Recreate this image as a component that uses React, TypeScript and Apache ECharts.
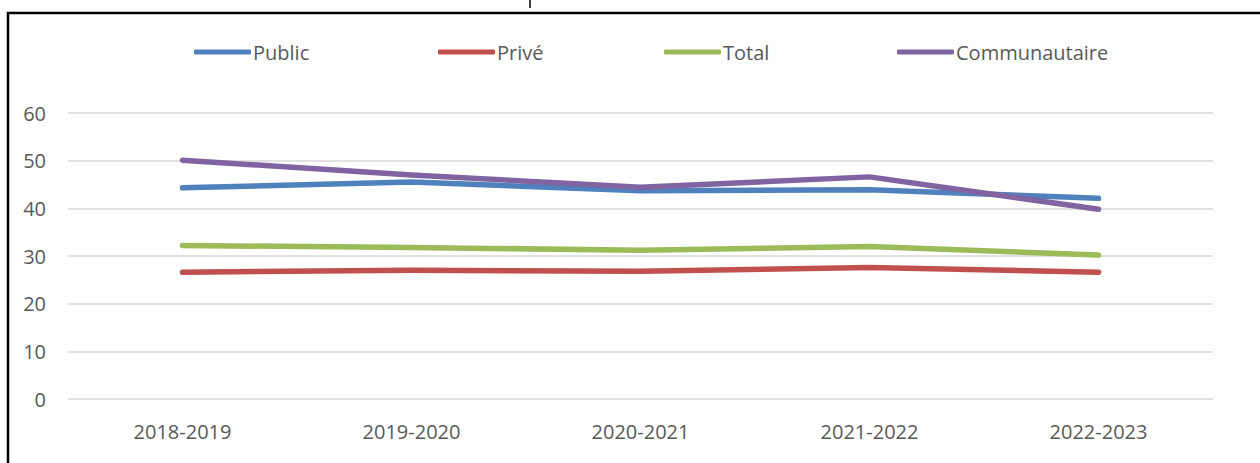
import React, { useEffect, useRef } from "react";
import * as echarts from "echarts";

const categories = ["2018-2019", "2019-2020", "2020-2021", "2021-2022", "2022-2023"];
const publicValues = [44.3, 45.5, 43.7, 43.9, 42.1];
const priveValues = [26.6, 27.0, 26.8, 27.6, 26.6];
const totalValues = [32.2, 31.8, 31.2, 32.0, 30.2];
const communautaireValues = [50.1, 47.0, 44.4, 46.6, 39.8];
const seriesNames = ["Public", "Privé", "Total", "Communautaire"];
const colors = ["#4F81BD", "#C0504D", "#9BBB59", "#8064A2"];
const legendLefts = [194, 438, 664, 897];

const FONT = "'Open Sans', 'Liberation Sans', sans-serif";

export default function App() {
  const ref = useRef<HTMLDivElement>(null);
  useEffect(() => {
    document.body.style.margin = "0";
    const chart = echarts.init(ref.current!, undefined, { renderer: "svg" });
    const values = [publicValues, priveValues, totalValues, communautaireValues];
    chart.setOption({
      animation: false,
      backgroundColor: "#ffffff",
      grid: { left: 68, right: 47, top: 113, bottom: 64, containLabel: false },
      legend: seriesNames.map((name, i) => ({
        data: [name],
        left: legendLefts[i],
        top: 42,
        padding: 0,
        itemWidth: 57,
        itemHeight: 5,
        itemGap: 0,
        icon: "roundRect",
        textStyle: { color: "#595959", fontSize: 20, fontFamily: FONT, padding: [0, 0, 0, -3] },
      })),
      xAxis: {
        type: "category",
        data: categories,
        boundaryGap: true,
        axisLine: { show: false },
        axisTick: { show: false },
        axisLabel: { color: "#595959", fontSize: 20, fontFamily: FONT, margin: 22 },
      },
      yAxis: {
        type: "value",
        min: 0,
        max: 60,
        interval: 10,
        axisLine: { show: false },
        axisTick: { show: false },
        splitLine: { lineStyle: { color: "#D9D9D9", width: 1.5 } },
        axisLabel: { color: "#595959", fontSize: 20, fontFamily: FONT, margin: 22 },
      },
      series: seriesNames.map((name, i) => ({
        name,
        type: "line",
        data: values[i],
        symbol: "none",
        color: colors[i],
        lineStyle: { width: 5.5, color: colors[i], cap: "round", join: "round" },
      })),
      graphic: [
        {
          type: "rect",
          shape: { x: 8, y: 13, width: 1400, height: 600 },
          style: { fill: "none", stroke: "#000000", lineWidth: 2.5 },
          silent: true,
        },
        {
          type: "line",
          shape: { x1: 530, y1: 0, x2: 530, y2: 8 },
          style: { stroke: "#404040", lineWidth: 2 },
          silent: true,
        },
      ],
    });
    return () => chart.dispose();
  }, []);
  return <div ref={ref} style={{ width: 1260, height: 463 }} />;
}
